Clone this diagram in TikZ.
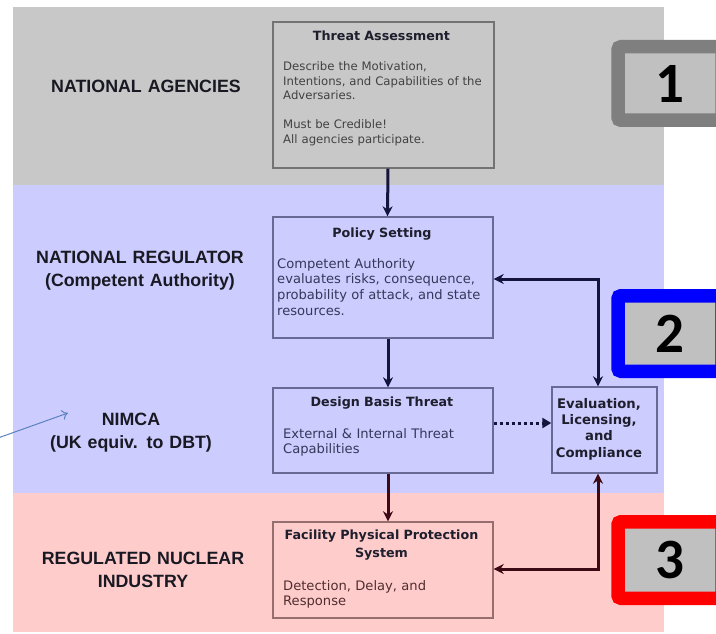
\documentclass[tikz,border=0pt]{standalone}
\usepackage{fontspec}
\newfontfamily\boxfont{DejaVu Sans}
\newfontfamily\labfont{Liberation Sans}
\newfontfamily\numfont{Carlito}
\usetikzlibrary{arrows.meta}
\definecolor{bandgray}{RGB}{200,200,200}
\definecolor{bandblue}{RGB}{204,204,255}
\definecolor{bandpink}{RGB}{255,204,204}
\definecolor{edgegray}{RGB}{115,115,115}
\definecolor{edgeblue}{RGB}{105,105,150}
\definecolor{edgepink}{RGB}{150,110,110}
\definecolor{navyline}{RGB}{20,20,60}
\definecolor{maroonline}{RGB}{60,10,20}
\definecolor{txtgray}{RGB}{65,65,65}
\definecolor{txtblue}{RGB}{55,55,90}
\definecolor{txtpink}{RGB}{80,45,45}
\definecolor{headdark}{RGB}{30,30,45}
\definecolor{numgray}{RGB}{127,127,127}
\definecolor{numfill}{RGB}{192,192,192}
\definecolor{pointer}{RGB}{90,130,190}
\definecolor{labtext}{RGB}{25,25,35}
\begin{document}
\begin{tikzpicture}[x=1pt,y=-1pt,
  stagebox/.style={draw, line width=1.4pt, inner sep=0pt},
  bodytext/.style={inner sep=0pt, align=left, font=\boxfont\fontsize{13.1}{15.7}\selectfont},
  headtext/.style={inner sep=0pt, align=center, anchor=base, font=\boxfont\bfseries\fontsize{12.7}{16.5}\selectfont, text=headdark},
  sidelabel/.style={inner sep=0pt, align=center, anchor=base, text width=240pt, font=\labfont\bfseries\fontsize{17.8}{23}\selectfont, text=labtext},
  numbox/.style={draw, line width=13.5pt, rounded corners=3pt, fill=numfill, minimum width=104pt, inner sep=0pt, font=\numfont\bfseries\fontsize{57}{57}\selectfont, text=black},
  arr/.style={line width=3pt, -{Stealth[length=10pt,width=10pt]}},
  darr/.style={line width=3pt, {Stealth[length=10pt,width=10pt]}-{Stealth[length=10pt,width=10pt]}}
]
\clip (0,0) rectangle (716,634);
% bands
\fill[bandgray] (13,7) rectangle (664,185);
\fill[bandblue] (13,185) rectangle (664,493);
\fill[bandpink] (13,493) rectangle (664,632);

% side labels
\node[sidelabel] (lagency) at (146,93) {NATIONAL AGENCIES};
\node[sidelabel] (lregulator) at (140,263) {NATIONAL REGULATOR\\(Competent Authority)};
\node[sidelabel] (lnimca) at (131,425) {NIMCA\\(UK equiv. to DBT)};
\node[sidelabel] (lindustry) at (143,564) {REGULATED NUCLEAR\\INDUSTRY};
\coordinate (pstart) at (-2,438);
\draw[pointer, line width=1pt, -{To[length=6pt,width=10pt]}] (pstart) -- (68,413);

% stage boxes
\node[stagebox, draw=edgegray, fill=bandgray, minimum width=221pt, minimum height=146pt] (ta) at (383.5,95) {};
\node[stagebox, draw=edgeblue, fill=bandblue, minimum width=220pt, minimum height=121pt] (ps) at (383,277.5) {};
\node[stagebox, draw=edgeblue, fill=bandblue, minimum width=220pt, minimum height=85pt] (dbt) at (383,430.5) {};
\node[stagebox, draw=edgeblue, fill=bandblue, minimum width=105pt, minimum height=86pt] (ev) at (604.5,430) {};
\node[stagebox, draw=edgepink, fill=bandpink, minimum width=220pt, minimum height=96pt] (fp) at (383,570) {};

% texts in boxes
\node[headtext, text width=210pt] (tah) at (381.5,41) {Threat Assessment};
\node[bodytext, anchor=base west, text width=210pt, text=txtgray, font=\boxfont\fontsize{11.7}{14.5}\selectfont] (tab) at (283,71)
  {Describe the Motivation,\\Intentions, and Capabilities of the\\Adversaries.\\[14.5pt]Must be Credible!\\All agencies participate.};

\node[headtext, text width=210pt] (psh) at (382,237) {Policy Setting};
\node[bodytext, anchor=base west, text width=214pt, text=txtblue] (psb) at (277,268)
  {Competent Authority\\evaluates risks, consequence,\\probability of attack, and state\\resources.};

\node[headtext, text width=210pt] (dbth) at (382,406) {Design Basis Threat};
\node[bodytext, anchor=base west, text width=205pt, text=txtblue] (dbtb) at (283,438)
  {External \& Internal Threat\\Capabilities};

\node[headtext, text width=100pt, font=\boxfont\bfseries\fontsize{13.2}{16.4}\selectfont] (evh) at (599,408)
  {Evaluation,\\Licensing,\\and\\Compliance};

\node[headtext, text width=215pt, font=\boxfont\bfseries\fontsize{12.7}{18}\selectfont] (fph) at (381.5,539)
  {Facility Physical Protection\\System};
\node[bodytext, anchor=base west, text width=205pt, text=txtpink] (fpb) at (283,590)
  {Detection, Delay, and\\Response};

% number boxes
\node[numbox, draw=numgray, minimum height=73.5pt] (n1) at (670,83.5) {1};
\node[numbox, draw=blue, minimum height=75.5pt] (n2) at (670,333.5) {2};
\node[numbox, draw=red, minimum height=76.5pt] (n3) at (670,560) {3};

% connectors
\draw[arr, navyline] ([xshift=4.5pt]ta.south) -- ([xshift=4.5pt]ps.north);
\draw[arr, navyline] ([xshift=5pt]ps.south) -- ([xshift=5pt]dbt.north);
\draw[arr, maroonline] ([xshift=5pt]dbt.south) -- ([xshift=5pt]fp.north);
\draw[darr, navyline] ([yshift=-1.5pt]ps.east) -| ([xshift=-6.5pt]ev.north);
\draw[darr, maroonline] ([xshift=-6.5pt]ev.south) |- ([yshift=1pt]fp.east);
\draw[navyline, line width=3pt, dash pattern=on 3pt off 3pt, -{Triangle[length=9pt,width=10pt]}] ([yshift=7.5pt]dbt.east) -- ([yshift=7pt]ev.west);
\end{tikzpicture}
\end{document}
